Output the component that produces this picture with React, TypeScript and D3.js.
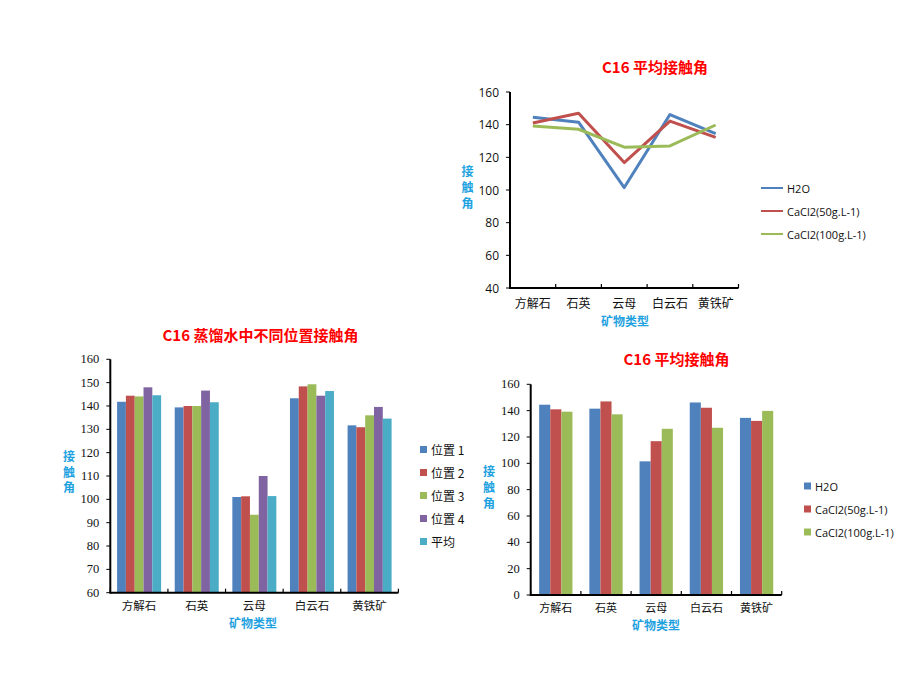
import React from 'react';
import * as d3 from 'd3';

const categories = ['方解石', '石英', '云母', '白云石', '黄铁矿'];

// Top line chart & bottom-right bar chart (C16 平均接触角)
const treatmentNames = ['H2O', 'CaCl2(50g.L-1)', 'CaCl2(100g.L-1)'];
const h2oValues = [144.5, 141.5, 101.5, 146.2, 134.5];
const cacl50Values = [141, 147, 116.8, 142.2, 132.2];
const cacl100Values = [139.2, 137.2, 126.2, 127, 139.8];

// Bottom-left bar chart (C16 蒸馏水中不同位置接触角)
const positionNames = ['位置 1', '位置 2', '位置 3', '位置 4', '平均'];
const pos1Values = [141.8, 139.4, 101, 143.3, 131.7];
const pos2Values = [144.4, 140, 101.3, 148.4, 130.9];
const pos3Values = [144.1, 140, 93.4, 149.3, 136];
const pos4Values = [148, 146.6, 110, 144.4, 139.6];
const avgValues = [144.6, 141.6, 101.4, 146.4, 134.6];

const lineTicks = [40, 60, 80, 100, 120, 140, 160];
const posTicks = [60, 70, 80, 90, 100, 110, 120, 130, 140, 150, 160];
const avgTicks = [0, 20, 40, 60, 80, 100, 120, 140, 160];

const COLORS = ['#4F81BD', '#C0504D', '#9BBB59', '#8064A2', '#4BACC6'];
const TITLE_RED = '#FF0000';
const LABEL_BLUE = '#1FA2E0';
const CJK = '"Noto Sans CJK SC", "Noto Sans", sans-serif';
const SANS = '"Open Sans", "Liberation Sans", sans-serif';
const SERIF = '"Liberation Serif", "DejaVu Serif", serif';

type Box = { x0: number; x1: number; y0: number; y1: number };

function YLabel({ x, y, step }: { x: number; y: number; step: number }) {
  return (
    <g>
      {['接', '触', '角'].map((c, i) => (
        <text key={i} x={x} y={y + i * step} textAnchor="middle" fontFamily={CJK} fontWeight={700}
          fontSize={12} fill={LABEL_BLUE} dominantBaseline="middle">{c}</text>
      ))}
    </g>
  );
}

function Axes({ box, y, ticks, tickFont, tickSize, x }: any) {
  const bounds = [box.x0, ...categories.map((c: string) => (x(c) as number) + x.bandwidth())];
  return (
    <g>
      {ticks.map((t: number) => (
        <g key={t}>
          <line x1={box.x0 - 4} x2={box.x0} y1={y(t)} y2={y(t)} stroke="#000" strokeWidth={1} />
          <text x={box.x0 - 11} y={y(t)} textAnchor="end" dominantBaseline="central" fontFamily={tickFont}
            fontSize={tickSize} fill="#111">{t}</text>
        </g>
      ))}
      {bounds.map((b: number, i: number) => (
        <line key={i} x1={b} x2={b} y1={box.y1} y2={box.y1 - 4} stroke="#000" strokeWidth={1.2} />
      ))}
      <line x1={box.x0} x2={box.x0} y1={box.y0} y2={box.y1 + 1} stroke="#000" strokeWidth={2} />
      <line x1={box.x0} x2={box.x1} y1={box.y1} y2={box.y1} stroke="#000" strokeWidth={2} />
    </g>
  );
}

function CatLabels({ x, yBase, size }: any) {
  return (
    <g>
      {categories.map((c) => (
        <text key={c} x={(x(c) as number) + x.bandwidth() / 2} y={yBase} textAnchor="middle" fontFamily={CJK}
          fontSize={size} fill="#111">{c}</text>
      ))}
    </g>
  );
}

function LineChart() {
  const box: Box = { x0: 510, x1: 738.5, y0: 92, y1: 288 };
  const x = d3.scaleBand<string>().domain(categories).range([box.x0, box.x1]).padding(0);
  const y = d3.scaleLinear().domain([40, 160]).range([box.y1, box.y0]);
  const series = [h2oValues, cacl50Values, cacl100Values];
  const line = d3.line<number>()
    .x((_, i) => (x(categories[i]) as number) + x.bandwidth() / 2)
    .y((v) => y(v));
  return (
    <g>
      <text x={655} y={73} textAnchor="middle" fontFamily={CJK} fontWeight={700} fontSize={15} fill={TITLE_RED}>C16  平均接触角</text>
      <Axes box={box} y={y} x={x} ticks={lineTicks} tickFont={SANS} tickSize={12} />
      {series.map((s, i) => (
        <path key={i} d={line(s) || ''} fill="none" stroke={COLORS[i]} strokeWidth={3} strokeLinejoin="round" />
      ))}
      <CatLabels x={x} yBase={308} size={12} />
      <text x={625} y={326} textAnchor="middle" fontFamily={CJK} fontWeight={700} fontSize={12} fill={LABEL_BLUE}>矿物类型</text>
      <YLabel x={467.5} y={172.5} step={16} />
      {treatmentNames.map((n, i) => (
        <g key={n}>
          <line x1={761} x2={783} y1={188 + i * 23} y2={188 + i * 23} stroke={COLORS[i]} strokeWidth={2} />
          <text x={787} y={188 + i * 23} dominantBaseline="central" fontFamily={SANS} fontSize={11} fill="#111">{n}</text>
        </g>
      ))}
    </g>
  );
}

function BarChart({ box, domain, ticks, series, names, groupFrac, title, titleX, titleY, xLabelX, xLabelY,
  catY, catSize, yLabelX, yLabelY, yStep, legendX, legendY, legendStep, legendFont, legendSize }: any) {
  const x = d3.scaleBand<string>().domain(categories).range([box.x0, box.x1]).padding(0);
  const y = d3.scaleLinear().domain(domain).range([box.y1, box.y0]);
  const gw = x.bandwidth() * groupFrac;
  const inner = d3.scaleBand<number>().domain(d3.range(series.length)).range([0, gw]).padding(0);
  return (
    <g>
      <text x={titleX} y={titleY} textAnchor="middle" fontFamily={CJK} fontWeight={700} fontSize={15} fill={TITLE_RED}>{title}</text>
      {series.map((s: number[], si: number) => (
        <g key={si}>
          {s.map((v, ci) => {
            const bx = (x(categories[ci]) as number) + (x.bandwidth() - gw) / 2 + (inner(si) as number);
            return <rect key={ci} x={bx} y={y(v)} width={inner.bandwidth()} height={box.y1 - y(v)} fill={COLORS[si]} />;
          })}
        </g>
      ))}
      <Axes box={box} y={y} x={x} ticks={ticks} tickFont={SERIF} tickSize={12.5} />
      <CatLabels x={x} yBase={catY} size={catSize} />
      <text x={xLabelX} y={xLabelY} textAnchor="middle" fontFamily={CJK} fontWeight={700} fontSize={12} fill={LABEL_BLUE}>矿物类型</text>
      <YLabel x={yLabelX} y={yLabelY} step={yStep} />
      {names.map((n: string, i: number) => (
        <g key={n}>
          <rect x={legendX} y={legendY + i * legendStep - 3.5} width={7} height={7} fill={COLORS[i]} />
          <text x={legendX + 11} y={legendY + i * legendStep} dominantBaseline="central" fontFamily={legendFont}
            fontSize={legendSize} fill="#111">{n}</text>
        </g>
      ))}
    </g>
  );
}

export default function App() {
  return (
    <svg width={920} height={690} style={{ position: 'absolute', left: 0, top: 0, background: '#fff' }}>
      <rect width={920} height={690} fill="#fff" />
      <LineChart />
      <BarChart
        box={{ x0: 110.3, x1: 398.4, y0: 359.3, y1: 592.7 }}
        domain={[60, 160]} ticks={posTicks}
        series={[pos1Values, pos2Values, pos3Values, pos4Values, avgValues]} names={positionNames}
        groupFrac={0.764} title="C16  蒸馏水中不同位置接触角" titleX={260.5} titleY={341}
        xLabelX={253} xLabelY={628} catY={610} catSize={11.5}
        yLabelX={69} yLabelY={458} yStep={15.5}
        legendX={420} legendY={449.5} legendStep={23} legendFont={CJK} legendSize={12}
      />
      <BarChart
        box={{ x0: 530.7, x1: 781.7, y0: 384.3, y1: 595 }}
        domain={[0, 160]} ticks={avgTicks}
        series={[h2oValues, cacl50Values, cacl100Values]} names={treatmentNames}
        groupFrac={0.663} title="C16  平均接触角" titleX={676.5} titleY={365}
        xLabelX={656} xLabelY={630} catY={612} catSize={11}
        yLabelX={489} yLabelY={472.5} yStep={16}
        legendX={804} legendY={486} legendStep={23} legendFont={SANS} legendSize={11}
      />
    </svg>
  );
}
